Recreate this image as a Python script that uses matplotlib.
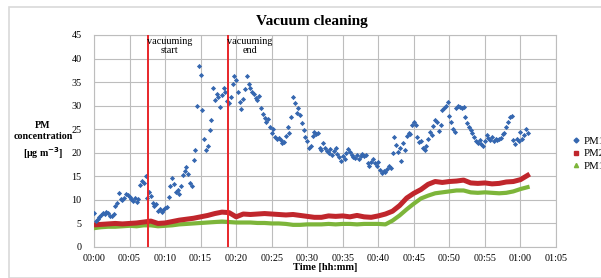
import numpy as np
import matplotlib
matplotlib.use("Agg")
import matplotlib.pyplot as plt
from matplotlib.patches import Rectangle
from matplotlib.lines import Line2D
from matplotlib.ticker import FuncFormatter

# ---------------- data ----------------
# PM10 sampled every 15 s (4 values per minute, minutes 0..60, plus 61:00)
pm10_values = [
    7.2, 5.6, 6.0, 6.3,   6.8, 7.3, 7.0, 7.5,   7.2, 6.6, 6.5, 7.0,
    8.6, 9.4, 11.4, 10.2, 10.0, 10.5, 11.3, 11.0, 10.6, 10.2, 9.8, 10.4,
    9.6, 10.1, 13.2, 14.0, 13.5, 15.0, 10.4, 11.7, 10.9, 9.3, 8.8, 9.1,
    7.6, 8.0, 7.4, 7.8,   8.2, 8.5, 10.6, 13.0, 14.7, 13.4, 11.6, 12.1,
    11.2, 13.0, 15.2, 16.1, 17.0, 15.6, 13.5, 13.0, 18.5, 20.5, 30.0, 38.5,
    36.6, 29.0, 23.0, 20.5, 21.5, 24.8, 27.0, 33.8, 31.2, 32.4, 31.8, 29.8,
    32.2, 33.8, 32.8, 31.0, 30.6, 31.8, 34.7, 36.3, 35.5, 33.0, 30.8, 29.2,
    31.5, 33.6, 36.3, 34.5, 33.7, 33.0, 32.4, 31.6, 31.2, 32.0, 29.6, 28.3,
    27.4, 26.5, 27.2, 25.5, 24.2, 25.0, 23.4, 23.0, 23.2, 22.8, 22.0, 22.2,
    23.6, 25.4, 24.2, 27.5, 31.8, 30.6, 28.4, 29.4, 28.0, 26.4, 24.8, 23.4,
    22.5, 21.0, 21.5, 23.6, 24.4, 23.9, 24.2, 21.0, 20.6, 22.0, 21.0, 20.3,
    20.0, 20.8, 19.6, 20.4, 21.0, 19.8, 19.0, 18.3, 19.4, 18.6, 19.9, 20.8,
    20.2, 19.6, 19.0, 18.8, 19.5, 18.7, 19.4, 19.7, 19.3, 19.6, 17.8, 17.1,
    18.0, 18.6, 17.8, 17.2, 18.0, 16.4, 15.7, 16.2, 15.9, 16.6, 17.2, 16.8,
    19.9, 23.3, 21.6, 20.2, 21.0, 18.2, 22.0, 20.5, 23.5, 24.2, 24.0, 25.8,
    26.6, 26.0, 23.3, 22.2, 22.6, 21.0, 20.6, 21.4, 23.0, 24.4, 23.8, 25.6,
    26.9, 26.5, 24.6, 25.8, 29.0, 29.6, 30.0, 30.8, 27.8, 26.6, 25.0, 24.4,
    29.6, 30.0, 29.8, 29.6, 29.8, 27.6, 26.4, 25.5, 24.8, 24.2, 23.3, 22.5,
    22.1, 22.8, 21.9, 21.5, 22.6, 23.8, 23.2, 22.8, 23.3, 22.6, 23.0, 22.7,
    22.9, 23.2, 24.0, 24.2, 25.5, 26.5, 27.5, 27.9, 22.8, 21.8, 23.0, 22.4,
    24.4, 23.0, 23.8, 25.0, 24.2,
]
pm10_minutes = np.arange(len(pm10_values)) * 0.25

# PM2.5 and PM1 sampled every minute (0..61)
pm25_values = [
    4.7, 4.8, 4.9, 5.0, 4.9, 5.0, 5.1, 5.3, 5.5, 5.0, 5.1, 5.4, 5.7, 5.9, 6.1,
    6.4, 6.7, 7.1, 7.4, 7.3, 6.4, 7.0, 6.9, 7.0, 7.1, 7.0, 6.9, 6.8, 6.9, 6.7,
    6.5, 6.3, 6.3, 6.6, 6.5, 6.6, 6.4, 6.7, 6.4, 6.3, 6.6, 7.0, 7.6, 8.8, 10.4,
    11.4, 12.2, 13.3, 13.9, 13.7, 13.9, 14.0, 14.2, 13.6, 13.5, 13.6, 13.4,
    13.5, 13.8, 13.9, 14.3, 15.2,
]
pm1_values = [
    4.0, 4.2, 4.3, 4.3, 4.4, 4.5, 4.4, 4.6, 4.6, 4.4, 4.5, 4.6, 4.8, 4.9, 5.0,
    5.1, 5.2, 5.3, 5.4, 5.3, 5.2, 5.2, 5.2, 5.1, 5.1, 5.0, 5.0, 4.9, 4.7, 4.7,
    4.8, 4.8, 4.8, 4.9, 4.8, 4.9, 4.9, 4.8, 4.9, 4.9, 4.9, 4.8, 5.6, 6.7, 8.0,
    9.2, 10.3, 10.9, 11.4, 11.6, 11.8, 12.0, 12.0, 11.6, 11.5, 11.6, 11.5,
    11.4, 11.5, 11.8, 12.3, 12.7,
]
pm_minutes = np.arange(len(pm25_values))

series_labels = ["PM10", "PM2.5", "PM1"]
event_minutes = [7.6, 18.9]
event_labels = ["vacuuming\nstart", "vacuuming\nend"]
x_ticks = list(range(0, 70, 5))
y_ticks = list(range(0, 50, 5))

# ---------------- style ----------------
serif = ["Liberation Serif", "DejaVu Serif"]
plt.rcParams["font.family"] = serif
c_pm10 = "#3567b0"
c_pm25 = "#c0262c"
c_pm1 = "#7db53a"
c_grid = "#bdbdbd"

fig = plt.figure(figsize=(6.01, 2.78), dpi=100)
W, H = 601, 278

# outer light frame
fig.patches.append(Rectangle((9 / W, 1 - 278 / H), 1.0, (278 - 7) / H,
                             transform=fig.transFigure, fill=False,
                             edgecolor="#d9d9d9", linewidth=1.2))

ax = fig.add_axes([94 / W, 1 - 247 / H, (556 - 94) / W, (247 - 35) / H])
ax.set_xlim(0, 65)
ax.set_ylim(0, 45)
ax.set_xticks(x_ticks)
ax.set_yticks(y_ticks)
ax.xaxis.set_major_formatter(FuncFormatter(lambda v, p: f"{int(v)//60:02d}:{int(v)%60:02d}"))
ax.grid(True, color=c_grid, linewidth=0.8)
ax.set_axisbelow(True)
for s in ax.spines.values():
    s.set_color(c_grid)
    s.set_linewidth(0.8)
ax.tick_params(length=0, labelsize=7.3)
ax.tick_params(axis="y", pad=9)
ax.tick_params(axis="x", pad=5)

# series
ax.plot(pm_minutes, pm1_values, color=c_pm1, linewidth=3.0,
        solid_joinstyle="round", zorder=3)
ax.plot(pm_minutes, pm25_values, color=c_pm25, linewidth=3.6,
        solid_joinstyle="round", zorder=4)
ax.scatter(pm10_minutes, pm10_values, marker="D", s=7, color=c_pm10,
           linewidths=0, zorder=5)

# events
for m, lab in zip(event_minutes, event_labels):
    ax.axvline(m, color="#e8262a", linewidth=1.4, zorder=6)
    ax.text(m + 3.0, 44.6, lab, ha="center", va="top", fontsize=7.3,
            linespacing=1.05, zorder=7)

# titles
fig.text(312 / W, 1 - 21 / H, "Vacuum cleaning", ha="center", va="center",
         fontsize=11, fontweight="bold")
fig.text(325 / W, 1 - 268 / H, "Time [hh:mm]", ha="center", va="center",
         fontsize=7.5, fontweight="bold")
fig.text(43 / W, 1 - 141 / H, "PM\nconcentration\n[μg m$^{\\mathbf{-3}}$]",
         ha="center", va="center", fontsize=7.2, fontweight="bold",
         linespacing=1.3)

# legend (partly cut by the right image edge, as in the reference)
handles = [
    Line2D([], [], linestyle="none", marker="D", markersize=2.5, color=c_pm10),
    Line2D([], [], linestyle="none", marker="s", markersize=3.5, color=c_pm25),
    Line2D([], [], linestyle="none", marker="^", markersize=3, color=c_pm1),
]
fig.legend(handles, series_labels, loc="upper left",
           bbox_to_anchor=(572 / W, 1 - 136 / H), frameon=False,
           fontsize=7.8, handlelength=0.8, handletextpad=0.3,
           labelspacing=0.3, borderpad=0, borderaxespad=0)

fig.savefig("out.png", dpi=100)
